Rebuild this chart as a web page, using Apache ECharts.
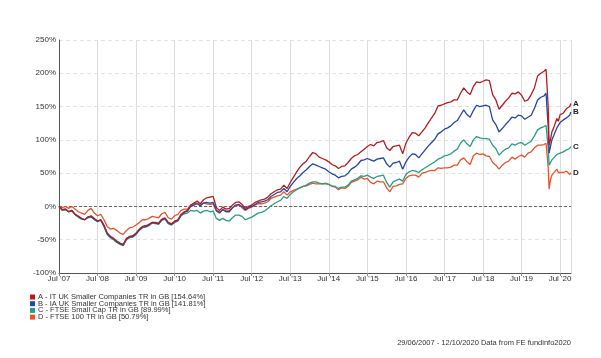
<!DOCTYPE html>
<html>
<head>
<meta charset="utf-8">
<script src="https://cdn.jsdelivr.net/npm/echarts@6/dist/echarts.min.js"></script>
<style>html,body{margin:0;padding:0;background:#fff;}#c{width:601px;height:358px;}</style>
</head>
<body>
<div id="c"></div>
<script>
// Dates (YYYY-MM or YYYY-MM-DD)
const dates = ['2007-07','2007-08','2007-09','2007-10','2007-11','2007-12','2008-01','2008-02','2008-03','2008-04','2008-05','2008-06','2008-07','2008-08','2008-09','2008-10','2008-11','2008-12','2009-01','2009-02','2009-03','2009-04','2009-05','2009-06','2009-07','2009-08','2009-09','2009-10','2009-11','2009-12','2010-01','2010-02','2010-03','2010-04','2010-05','2010-06','2010-07','2010-08','2010-09','2010-10','2010-11','2010-12','2011-01','2011-02','2011-03','2011-04','2011-05','2011-06','2011-07','2011-08','2011-09','2011-10','2011-11','2011-12','2012-01','2012-02','2012-03','2012-04','2012-05','2012-06','2012-07','2012-08','2012-09','2012-10','2012-11','2012-12','2013-01','2013-02','2013-03','2013-04','2013-05','2013-06','2013-07','2013-08','2013-09','2013-10','2013-11','2013-12','2014-01','2014-02','2014-03','2014-04','2014-05','2014-06','2014-07','2014-08','2014-09','2014-10','2014-11','2014-12','2015-01','2015-02','2015-03','2015-04','2015-05','2015-06','2015-07','2015-08','2015-09','2015-10','2015-11','2015-12','2016-01','2016-02','2016-03','2016-04','2016-05','2016-06','2016-07','2016-08','2016-09','2016-10','2016-11','2016-12','2017-01','2017-02','2017-03','2017-04','2017-05','2017-06','2017-07','2017-08','2017-09','2017-10','2017-11','2017-12','2018-01','2018-02','2018-03','2018-04','2018-05','2018-06','2018-07','2018-08','2018-09','2018-10','2018-11','2018-12','2019-01','2019-02','2019-03','2019-04','2019-05','2019-06','2019-07','2019-08','2019-09','2019-10','2019-11','2019-12','2020-01','2020-02','2020-02-20','2020-03-01','2020-03-10','2020-03-19','2020-04-01','2020-04-15','2020-05-01','2020-06-01','2020-06-15','2020-07-01','2020-08-01','2020-09-01','2020-10-01','2020-10-12'];

const seriesA = [0,-5,-4,-8,-6,-12,-15,-18,-20,-16,-14,-18,-22,-20,-28,-40,-45,-48,-52,-55,-57,-48,-45,-44,-40,-34,-30,-29,-27,-24,-24,-25,-19,-17,-24,-26,-22,-20,-12,-8,-6,2,5,8,4,10,13,14,15,-2,-6,-1,-4,-3,2,6,7,3,-3,0,2,6,8,10,11,14,19,22,25,26,32,27,36,44,52,59,64,68,75,81,79,74,72,70,67,63,61,57,60,61,66,72,76,78,82,86,90,93,91,96,97,99,88,84,90,91,92,79,95,104,111,110,106,112,118,126,133,140,151,152,154,156,157,160,160,170,178,172,168,180,187,186,188,190,189,168,160,146,152,158,163,170,169,172,167,158,160,168,178,196,200,203,206,175,150,92,100,112,118,132,128,138,140,147,150,154.64];
const seriesB = [0,-5,-4,-8,-6,-12,-15,-18,-20,-16,-15,-19,-22,-20,-29,-41,-46,-49,-53,-56,-58,-49,-46,-45,-41,-35,-31,-30,-28,-24,-25,-26,-20,-18,-25,-27,-23,-21,-13,-9,-7,0,2,4,1,5,6,5,6,-6,-9,-5,-8,-8,-2,2,3,0,-5,-2,0,3,6,7,8,10,15,18,21,22,27,22,30,36,42,46,51,55,60,64,62,60,58,56,52,49,47,43,45,46,50,56,59,63,69,70,72,70,68,71,72,73,64,59,65,66,68,56,67,74,79,78,73,79,85,91,96,101,109,112,116,118,121,126,129,137,145,138,134,144,152,150,151,152,150,130,123,112,117,123,128,134,133,137,136,131,134,137,147,160,164,166,170,142,120,80,90,100,106,118,115,126,130,133,137,141.81];
const seriesC = [0,-6,-5,-8,-7,-12,-16,-19,-20,-17,-16,-20,-23,-21,-30,-42,-47,-50,-54,-57,-59,-50,-47,-46,-42,-36,-32,-31,-29,-25,-26,-27,-21,-19,-26,-28,-24,-22,-14,-11,-10,-6,-7,-6,-10,-7,-6,-8,-7,-18,-21,-18,-21,-22,-17,-13,-13,-15,-20,-18,-16,-13,-10,-9,-7,-3,1,4,7,9,15,12,18,22,25,28,30,32,35,37,37,35,34,34,33,31,30,27,29,29,32,38,40,42,46,45,47,44,42,45,46,47,36,29,37,39,41,38,48,52,54,53,51,55,58,61,64,67,71,73,76,77,79,83,86,95,100,94,90,100,105,103,102,102,101,92,87,77,82,86,88,94,92,95,96,92,95,98,106,115,118,120,122,103,88,62,66,70,72,78,76,80,82,85,87,89.99];
const seriesD = [0,-2,0,-3,0,-4,-8,-10,-12,-6,-3,-10,-14,-12,-20,-30,-34,-33,-36,-40,-42,-36,-32,-31,-28,-24,-20,-20,-18,-15,-16,-17,-11,-9,-17,-19,-14,-12,-6,-4,-4,2,4,5,2,5,4,3,4,-7,-10,-4,-7,-6,-2,1,2,-2,-6,-3,-1,2,4,4,5,7,12,14,16,17,22,17,22,24,26,28,30,31,33,35,34,34,34,35,33,30,29,25,28,27,30,36,38,40,44,41,42,36,34,38,37,37,28,22,30,31,33,34,42,46,47,47,44,50,51,53,54,54,58,57,58,58,59,62,62,70,73,67,63,76,80,78,79,76,75,66,62,56,62,66,68,74,71,75,77,74,80,82,88,92,92,93,95,75,58,26,40,47,46,56,51,54,51,53,48,50.79];

const seriesNames = ['A - IT UK Smaller Companies TR in GB [154.64%]','B - IA UK Smaller Companies TR in GB [141.81%]','C - FTSE Small Cap TR in GB [89.99%]','D - FTSE 100 TR in GB [50.79%]'];
const endTags = ['A','B','C','D'];
const colors = ['#B01E23','#27479C','#2E9A86','#E2552E'];
const yTicks = [-100,-50,0,50,100,150,200,250];
const footer = '29/06/2007 - 12/10/2020 Data from FE fundinfo2020';

function toMonths(s){
  const p = s.split('-').map(Number);
  const d = p.length > 2 ? (p[2]-1)/30.4 : 0;
  return (p[0]-2007)*12 + (p[1]-7) + d;
}
const xs = dates.map(toMonths);
const all = [seriesA, seriesB, seriesC, seriesD];
const font = '"Liberation Sans", Arial, sans-serif';

const chart = echarts.init(document.getElementById('c'), null, {renderer:'canvas'});
chart.setOption({
  animation:false,
  backgroundColor:'#fff',
  textStyle:{fontFamily:font},
  grid:{left:59,right:30,top:40,bottom:85,containLabel:false},
  legend:{
    orient:'vertical', left:30, top:293, padding:0, itemGap:-1.3,
    itemWidth:5, itemHeight:5, icon:'rect',
    textStyle:{fontSize:7.5, color:'#333', fontFamily:font, padding:[0,0,0,-2]},
    data: seriesNames
  },
  xAxis:{
    type:'value', min:0, max:159.4, interval:12,
    axisLine:{show:true, onZero:false, lineStyle:{color:'#555', width:1}},
    axisTick:{show:true, length:3, lineStyle:{color:'#888'}},
    splitLine:{show:true, lineStyle:{color:'#dcdcdc', width:1}},
    axisLabel:{fontSize:8, color:'#333', margin:2, showMaxLabel:false,
      formatter:function(v){ const y = 2007 + Math.round(v/12); return "Jul '" + String(y).slice(2); }}
  },
  yAxis:{
    type:'value', min:yTicks[0], max:yTicks[yTicks.length-1], interval:50,
    axisLine:{show:true, lineStyle:{color:'#555', width:1}},
    axisTick:{show:false},
    splitLine:{show:true, lineStyle:{color:'#e2e2e2', type:[4,3], width:1}},
    axisLabel:{fontSize:8, color:'#333', margin:3, formatter:'{value}%'}
  },
  series: all.map((arr,i)=>({
    name: seriesNames[i], type:'line', showSymbol:false, symbol:'none',
    data: xs.map((x,j)=>[x, arr[j]]),
    lineStyle:{width:1.3, color:colors[i]}, itemStyle:{color:colors[i]},
    z: 10 - i,
    endLabel:{show:true, formatter:endTags[i], fontSize:8, fontWeight:'bold', color:'#222', distance:2},
    markLine: i===0 ? {silent:true, symbol:'none', label:{show:false},
      lineStyle:{color:'#666', type:[3,2], width:1}, data:[{yAxis:0}]} : undefined
  })),
  graphic:[{type:'text', right:30, top:339, style:{text:footer, fontSize:7.5, fill:'#333', fontFamily:font}}]
});
</script>
</body>
</html>
